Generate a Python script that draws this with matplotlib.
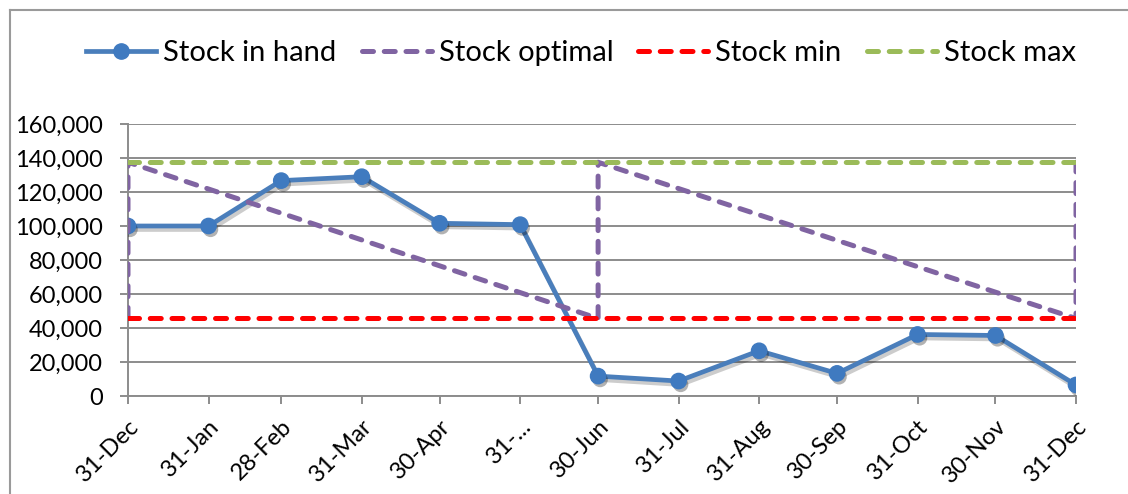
import matplotlib
matplotlib.use("Agg")
import matplotlib.pyplot as plt
import matplotlib.patheffects as pe
from matplotlib.lines import Line2D
from datetime import date

# ---- data ----
dates = [date(2012, 12, 31), date(2013, 1, 31), date(2013, 2, 28), date(2013, 3, 31),
         date(2013, 4, 30), date(2013, 5, 31), date(2013, 6, 30), date(2013, 7, 31),
         date(2013, 8, 31), date(2013, 9, 30), date(2013, 10, 31), date(2013, 11, 30),
         date(2013, 12, 31)]
tick_labels = ["31-Dec", "31-Jan", "28-Feb", "31-Mar", "30-Apr", "31-...", "30-Jun",
               "31-Jul", "31-Aug", "30-Sep", "31-Oct", "30-Nov", "31-Dec"]
stock_in_hand = [100000, 100000, 126700, 129000, 101600, 100800, 11700, 8800,
                 26600, 13300, 36200, 35600, 6500]
stock_min_value = 45600
stock_max_value = 137500
optimal_dates = [date(2012, 12, 31), date(2012, 12, 31), date(2013, 6, 30),
                 date(2013, 6, 30), date(2013, 12, 31), date(2013, 12, 31)]
stock_optimal = [45600, 137500, 45600, 137500, 45600, 137500]
yticks = [0, 20000, 40000, 60000, 80000, 100000, 120000, 140000, 160000]

# ---- style ----
plt.rcParams['font.family'] = ['Lato', 'DejaVu Sans']
BLUE = "#4A7EBB"
MARK = "#3F7AC0"
PURPLE = "#8064A2"
RED = "#FF0000"
GREEN = "#9BBB59"
GRID = "#8C8C8C"

W, H = 1128, 494
fig = plt.figure(figsize=(W / 100, H / 100), dpi=100)
ax = fig.add_axes([128 / W, 1 - 396 / H, (1076 - 128) / W, (396 - 124) / H])

dash = (2.2, 2.15)
lw_d = 3.6

line_shadow = [pe.SimpleLineShadow(offset=(1.5, -2.5), shadow_color="#000000", alpha=0.2), pe.Normal()]
mark_shadow = [pe.SimplePatchShadow(offset=(1.5, -2.5), shadow_rgbFace="#000000", alpha=0.3), pe.Normal()]

ax.plot(dates, stock_in_hand, color=BLUE, lw=3.4, zorder=3,
        path_effects=line_shadow, solid_capstyle='round', solid_joinstyle='round')
ax.plot(dates, stock_in_hand, linestyle='none', marker='o', markersize=11,
        markerfacecolor=MARK, markeredgecolor=MARK, zorder=3.5, path_effects=mark_shadow)
l_opt, = ax.plot(optimal_dates, stock_optimal, color=PURPLE, lw=lw_d, zorder=4,
                 dash_capstyle='round', dash_joinstyle='round')
l_opt.set_dashes(dash)
l_min, = ax.plot([dates[0], dates[-1]], [stock_min_value] * 2, color=RED, lw=lw_d, zorder=5,
                 dash_capstyle='round')
l_min.set_dashes(dash)
l_max, = ax.plot([dates[0], dates[-1]], [stock_max_value] * 2, color=GREEN, lw=lw_d, zorder=6,
                 dash_capstyle='round')
l_max.set_dashes(dash)

ax.set_xlim(dates[0], dates[-1])
ax.set_ylim(0, 160000)
ax.set_yticks(yticks)
ax.set_yticklabels([f"{v:,}" for v in yticks])
ax.set_xticks(dates)
ax.set_xticklabels(tick_labels, rotation=45, ha='right', rotation_mode='anchor')

ax.grid(axis='y', color=GRID, lw=1.4)
ax.set_axisbelow(True)
for s in ['top', 'right']:
    ax.spines[s].set_visible(False)
for s in ['left', 'bottom']:
    ax.spines[s].set_color(GRID)
    ax.spines[s].set_linewidth(1.4)
ax.tick_params(axis='y', length=6, width=1.4, color=GRID, pad=12, labelsize=17)
ax.tick_params(axis='x', length=6, width=1.4, color=GRID, pad=8, labelsize=17)
ax.patch.set_alpha(0)

# legend
h1 = Line2D([], [], color=BLUE, lw=3.4, marker='o', markersize=11,
            markerfacecolor=MARK, markeredgecolor=MARK)
h2 = Line2D([], [], color=PURPLE, lw=lw_d, dash_capstyle='round'); h2.set_dashes(dash)
h3 = Line2D([], [], color=RED, lw=lw_d, dash_capstyle='round'); h3.set_dashes(dash)
h4 = Line2D([], [], color=GREEN, lw=lw_d, dash_capstyle='round'); h4.set_dashes(dash)
fig.legend([h1, h2, h3, h4], ["Stock in hand", "Stock optimal", "Stock min", "Stock max"],
           loc='center', bbox_to_anchor=(581 / W, 1 - 53 / H), ncol=4, frameon=False,
           fontsize=21, handlelength=2.4, handletextpad=0.25, columnspacing=0.85,
           borderaxespad=0, borderpad=0)

# chart-area border (top and left visible)
fig.add_artist(Line2D([10 / W, 1.0], [1 - 10 / H, 1 - 10 / H], transform=fig.transFigure,
                      color="#9A9A9A", lw=1.5))
fig.add_artist(Line2D([10 / W, 10 / W], [0, 1 - 10 / H], transform=fig.transFigure,
                      color="#9A9A9A", lw=1.5))

fig.savefig("out.png", dpi=100)
